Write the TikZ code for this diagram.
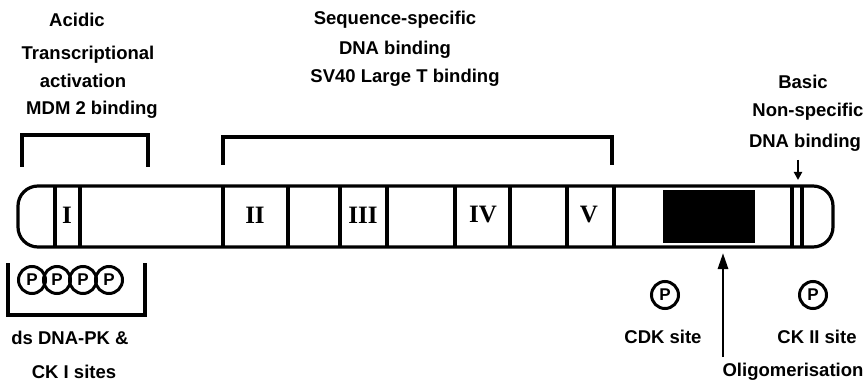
\documentclass[tikz,border=0pt]{standalone}
\usepackage{fontspec}
\setmainfont{Liberation Sans}
\newfontfamily\numfont{Liberation Serif}
\usetikzlibrary{arrows.meta}
\begin{document}
\begin{tikzpicture}[x=1pt,y=-1pt,
  thick line/.style={line width=3.2pt},
  label text/.style={font=\fontsize{18.5}{20}\selectfont\bfseries, inner sep=0pt},
  numeral/.style={font=\numfont\fontsize{25}{25}\selectfont\bfseries, inner sep=0pt},
  pcircle/.style={draw, circle, line width=3pt, minimum size=27pt, inner sep=0pt,
    font=\fontsize{17}{17}\selectfont\bfseries},
  bigarrow/.style={line width=2.8pt, -{Triangle[length=16pt,width=10pt]}},
  smallarrow/.style={line width=2.8pt, -{Triangle[length=8pt,width=8pt]}}]
\useasboundingbox (0,0) rectangle (868,385);

% protein bar with rounded ends
\draw[thick line, rounded corners=20pt] (18,186) rectangle (833,247);
% domain boundaries
\foreach \xx in {55,80,223,288,340,387,455,510,567,614,792,802}
  \draw[thick line] (\xx,186) -- (\xx,247);
% oligomerisation domain
\fill (663,190) rectangle (755,243);

% conserved boxes
\node[numeral] (n1) at (67,215) {I};
\node[numeral] (n2) at (255,215) {II};
\node[numeral] (n3) at (363,215) {III};
\node[numeral] (n4) at (483,215) {IV};
\node[numeral] (n5) at (589,215) {V};

% upper brackets
\draw[thick line] (22,167) -- (22,135) -- (148,135) -- (148,167);
\draw[thick line] (223,165) -- (223,137) -- (612,137) -- (612,165);

% N-terminal labels
\node[label text] (acid) at (77,20) {Acidic};
\node[label text] (trans) at (88,55) {Transcriptional};
\node[label text] (activ) at (83,81) {activation};
\node[label text] (mdm) at (92,110) {MDM 2 binding};

% central labels
\node[label text] (seq) at (395,20) {Sequence-specific};
\node[label text] (dnab) at (395,50) {DNA binding};
\node[label text] (sv40) at (405,78) {SV40 Large T binding};

% C-terminal labels
\node[label text] (basic) at (803,82) {Basic};
\node[label text] (nonsp) at (808,112) {Non-specific};
\node[label text] (dnab2) at (805,143) {DNA binding};
\coordinate (basictop) at (798,160);
\coordinate (basictip) at (798,180);
\draw[smallarrow] (basictop) -- (basictip);

% phosphorylation sites, N terminus
\draw[thick line] (8,263) -- (8,315) -- (145,315) -- (145,263);
\foreach \xx/\nm in {32/pa,57/pb,83/pc,109/pd}
  \node[pcircle] (\nm) at (\xx,280) {P};
\node[label text] (dspk) at (70,338) {ds DNA-PK \&};
\node[label text] (cki) at (74,372) {CK I sites};

% phosphorylation sites, C terminus
\node[pcircle] (pcdk) at (665,295) {P};
\node[label text] (cdk) at (663,337) {CDK site};
\node[pcircle] (pck2) at (813,295) {P};
\node[label text] (ck2) at (817,337) {CK II site};

% oligomerisation arrow
\node[label text] (olig) at (793,372) {Oligomerisation};
\coordinate (oligfoot) at (723,357);
\coordinate (oligtip) at (723,253);
\draw[bigarrow] (oligfoot) -- (oligtip);
\end{tikzpicture}
\end{document}
